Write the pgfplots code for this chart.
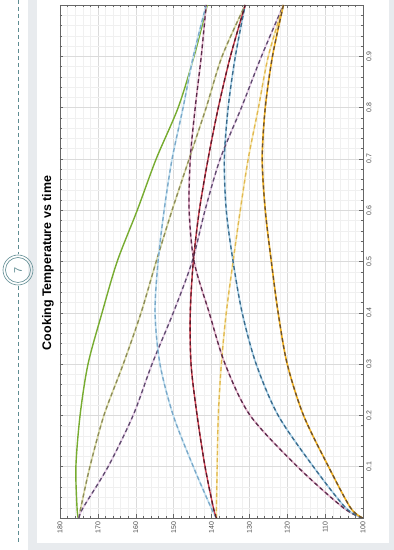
\documentclass[border=0pt]{standalone}
\usepackage{fontspec}
\setmainfont{Liberation Sans}
\usepackage{pgfplots}
\usepackage{pgfplotstable}
\pgfplotsset{compat=1.18}
\definecolor{pagegray}{HTML}{E8EBEE}
\definecolor{dashline}{HTML}{5F8C92}
\definecolor{mgreen}{HTML}{77AC30}
\definecolor{olU}{HTML}{DCDCA8}\definecolor{olD}{HTML}{8C8C5A}
\definecolor{plU}{HTML}{E6CCE6}\definecolor{plD}{HTML}{5E4A6E}
\definecolor{lbU}{HTML}{C4E2F2}\definecolor{lbD}{HTML}{7AA8C8}
\definecolor{rdU}{HTML}{D04050}\definecolor{rdD}{HTML}{5A1A2A}
\definecolor{yeU}{HTML}{F8E8B0}\definecolor{yeD}{HTML}{E0B850}
\definecolor{prU}{HTML}{E4B4CC}\definecolor{prD}{HTML}{5A2A4A}
\definecolor{blU}{HTML}{A8D0E8}\definecolor{blD}{HTML}{3A6A8A}
\definecolor{orU}{HTML}{F0B020}\definecolor{orD}{HTML}{6A5030}

\pgfplotstableread{
t    g     ol    pl    lb    pr    rd    ye    bl    or
0    175.2 175.0 175.0 138.7 100.1 138.7 138.7 100.1 100.1
0.02 175.5 174.5 173.9 140.1 105.2 139.5 138.7 104.6 103.3
0.1  175.8 172.1 167.3 144.8 117.3 141.7 138.5 113.1 109.1
0.2  174.7 168.4 160.7 150.1 129.8 143.8 138.2 122.4 115.7
0.3  172.6 163.3 155.7 153.6 136.4 145.4 137.4 128.2 120.0
0.4  168.9 158.6 150.1 154.9 140.6 145.6 136.1 131.9 122.4
0.5  164.9 154.6 145.1 154.1 144.6 144.8 134.3 134.3 124.2
0.6  159.6 150.4 141.7 152.5 145.9 143.2 132.4 136.1 125.8
0.7  154.6 145.9 137.7 150.4 145.6 140.9 130.3 136.6 126.6
0.8  148.8 141.4 132.1 147.5 144.3 138.2 127.6 135.6 125.8
0.9  144.6 137.2 126.8 144.8 142.7 135.0 125.0 133.7 123.9
1.0  141.1 131.1 121.0 141.4 141.4 131.1 121.0 131.1 121.0
}\curves

\begin{document}
\begin{tikzpicture}
\useasboundingbox (0,0) rectangle (394bp,550bp);
\fill[pagegray] (0,0) rectangle (394bp,550bp);
\fill[white] (0,0) rectangle (28bp,550bp);
\fill[white] (37bp,7bp) rectangle (389bp,550bp);
\draw[dashline, line width=0.9bp, dash pattern=on 4bp off 3bp] (18bp,550bp) -- (18bp,296bp);
\draw[dashline, line width=0.9bp, dash pattern=on 4bp off 3bp] (18bp,264bp) -- (18bp,6bp);
\draw[dashline, line width=0.6bp] (18bp,280bp) circle[radius=15bp];
\draw[dashline, line width=0.6bp] (18bp,280bp) circle[radius=12.5bp];
\node[rotate=90, text=dashline, font=\fontsize{11}{12}\selectfont] at (18bp,280bp) {7};
\begin{axis}[
  at={(60bp,32bp)}, anchor=south west, scale only axis,
  width=303bp, height=513bp,
  xmin=100, xmax=180, ymin=0, ymax=1, x dir=reverse,
  xtick={100,110,120,130,140,150,160,170,180},
  ytick={0,0.1,0.2,0.3,0.4,0.5,0.6,0.7,0.8,0.9,1},
  yticklabels={,0.1,0.2,0.3,0.4,0.5,0.6,0.7,0.8,0.9,},
  minor x tick num=4, minor y tick num=4,
  grid=both,
  major grid style={draw=black!14, line width=0.4bp},
  minor grid style={draw=black!6, line width=0.3bp},
  tick align=inside, major tick length=3.5bp, minor tick length=2bp,
  ytick pos=both, yticklabel pos=right,
  tick style={draw=black!60, line width=0.4bp},
  axis line style={draw=black!60, line width=0.5bp},
  ticklabel style={font=\fontsize{7}{8}\selectfont, text=black!70},
  xticklabel style={rotate=90, anchor=east},
  yticklabel style={rotate=90, anchor=north},
  /pgf/number format/assume math mode=true,
  every axis plot/.append style={smooth},
]
\addplot[mgreen, line width=1.4bp] table[x=g, y=t] {\curves};
% underlays
\addplot[olU, line width=1.6bp] table[x=ol, y=t] {\curves};
\addplot[plU, line width=1.6bp] table[x=pl, y=t] {\curves};
\addplot[lbU, line width=1.6bp] table[x=lb, y=t] {\curves};
\addplot[yeU, line width=1.6bp] table[x=ye, y=t] {\curves};
\addplot[prU, line width=1.6bp] table[x=pr, y=t] {\curves};
\addplot[blU, line width=1.6bp] table[x=bl, y=t] {\curves};
\addplot[rdU, line width=1.4bp] table[x=rd, y=t] {\curves};
\addplot[orU, line width=1.6bp] table[x=or, y=t] {\curves};
% dashes
\addplot[olD, line width=1.3bp, dash pattern=on 4bp off 3bp] table[x=ol, y=t] {\curves};
\addplot[plD, line width=1.3bp, dash pattern=on 4bp off 3bp] table[x=pl, y=t] {\curves};
\addplot[lbD, line width=1.3bp, dash pattern=on 4bp off 3bp] table[x=lb, y=t] {\curves};
\addplot[yeD, line width=1.3bp, dash pattern=on 4bp off 3bp] table[x=ye, y=t] {\curves};
\addplot[prD, line width=1.3bp, dash pattern=on 4bp off 3bp] table[x=pr, y=t] {\curves};
\addplot[blD, line width=1.3bp, dash pattern=on 4bp off 3bp] table[x=bl, y=t] {\curves};
\addplot[rdD, line width=1.3bp, dash pattern=on 4bp off 3bp] table[x=rd, y=t] {\curves};
\addplot[orD, line width=1.3bp, dash pattern=on 4bp off 3bp] table[x=or, y=t] {\curves};
\end{axis}
\node[rotate=90, font=\bfseries\fontsize{12.5}{14}\selectfont] at (48bp,287bp) {Cooking Temperature vs time};
\end{tikzpicture}
\end{document}
